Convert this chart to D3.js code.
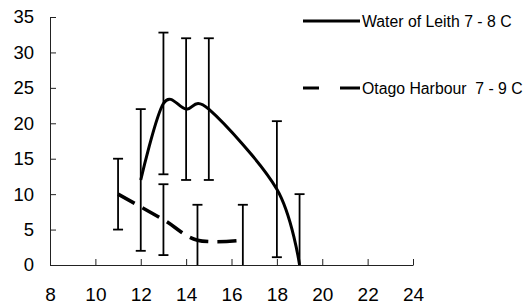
<!DOCTYPE html>
<html>
<head>
<meta charset="utf-8">
<script src="https://cdn.jsdelivr.net/npm/d3@7"></script>
<style>
  body { margin: 0; background: #fff; }
  text { font-family: "Liberation Sans", Arial, sans-serif; fill: #000; }
</style>
</head>
<body>
<div id="chart"></div>
<script>
// Water of Leith 7 - 8 C
var leithX = [12, 13, 14, 15, 18, 19];
var leithY = [12, 22.8, 22, 22, 10.7, 0];
var leithErr = [10, 10, 10, 10, 9.6, 10];

// Otago Harbour 7 - 9 C
var otagoX = [11, 13, 14.5, 16.5];
var otagoY = [10, 6.4, 3.5, 3.5];
var otagoErr = [5, 5, 5, 5];

var xTicks = [8, 10, 12, 14, 16, 18, 20, 22, 24];
var yTicks = [0, 5, 10, 15, 20, 25, 30, 35];

var legendNames = ["Water of Leith 7 - 8 C", "Otago Harbour  7 - 9 C"];

(function() {
    var width = 529;
    var height = 308;

    var svg = d3.select("#chart")
        .append("svg")
        .attr("width", width)
        .attr("height", height);

    var x = d3.scaleLinear().domain([8, 24]).range([50, 413]);
    var y = d3.scaleLinear().domain([0, 35]).range([265, 17]);

    // axes, ticks pointing inward
    var xAxis = svg.append("g")
        .attr("transform", "translate(0," + y(0) + ")")
        .call(d3.axisBottom(x).tickValues(xTicks).tickSizeInner(-6).tickSizeOuter(0).tickPadding(23));
    xAxis.selectAll("text").attr("font-size", 19).attr("font-family", null);

    var yAxis = svg.append("g")
        .attr("transform", "translate(" + x(8) + ",0)")
        .call(d3.axisLeft(y).tickValues(yTicks).tickSizeInner(-6).tickSizeOuter(0).tickPadding(16));
    yAxis.selectAll("text").attr("font-size", 18.5).attr("font-family", null);

    svg.selectAll(".domain, .tick line").attr("stroke", "#222");

    svg.append("defs").append("clipPath").attr("id", "plot")
        .append("rect")
        .attr("x", x(8)).attr("y", 0)
        .attr("width", x(24) - x(8)).attr("height", y(0));

    var plot = svg.append("g").attr("clip-path", "url(#plot)");

    var leith = leithX.map(function(d, i) { return { x: d, y: leithY[i], e: leithErr[i] }; });
    var otago = otagoX.map(function(d, i) { return { x: d, y: otagoY[i], e: otagoErr[i] }; });

    var line = d3.line()
        .x(function(d) { return x(d.x); })
        .y(function(d) { return y(d.y); })
        .curve(d3.curveCardinal.tension(0));

    function errorBars(data) {
        var g = plot.append("g").attr("stroke", "#000").attr("stroke-width", 1.8);
        data.forEach(function(d) {
            g.append("line")
                .attr("x1", x(d.x)).attr("x2", x(d.x))
                .attr("y1", y(d.y - d.e)).attr("y2", y(d.y + d.e));
            [d.y - d.e, d.y + d.e].forEach(function(v) {
                g.append("line")
                    .attr("x1", x(d.x) - 5).attr("x2", x(d.x) + 5)
                    .attr("y1", y(v)).attr("y2", y(v));
            });
        });
    }

    errorBars(leith);
    errorBars(otago);

    plot.append("path")
        .datum(leith)
        .attr("d", line)
        .attr("fill", "none")
        .attr("stroke", "#000")
        .attr("stroke-width", 3);

    plot.append("path")
        .datum(otago)
        .attr("d", line)
        .attr("fill", "none")
        .attr("stroke", "#000")
        .attr("stroke-width", 3.5)
        .attr("stroke-dasharray", "19,9");

    // legend
    var legend = svg.append("g");
    var legendY = [21, 88];
    var dashes = [null, "16,21,20"];
    legendNames.forEach(function(name, i) {
        legend.append("line")
            .attr("x1", 303).attr("x2", 360)
            .attr("y1", legendY[i]).attr("y2", legendY[i])
            .attr("stroke", "#000")
            .attr("stroke-width", 3)
            .attr("stroke-dasharray", dashes[i]);
        legend.append("text")
            .attr("x", 362)
            .attr("y", legendY[i] + 6)
            .attr("font-size", 15.8)
            .style("white-space", "pre")
            .text(name);
    });
})();
</script>
</body>
</html>
